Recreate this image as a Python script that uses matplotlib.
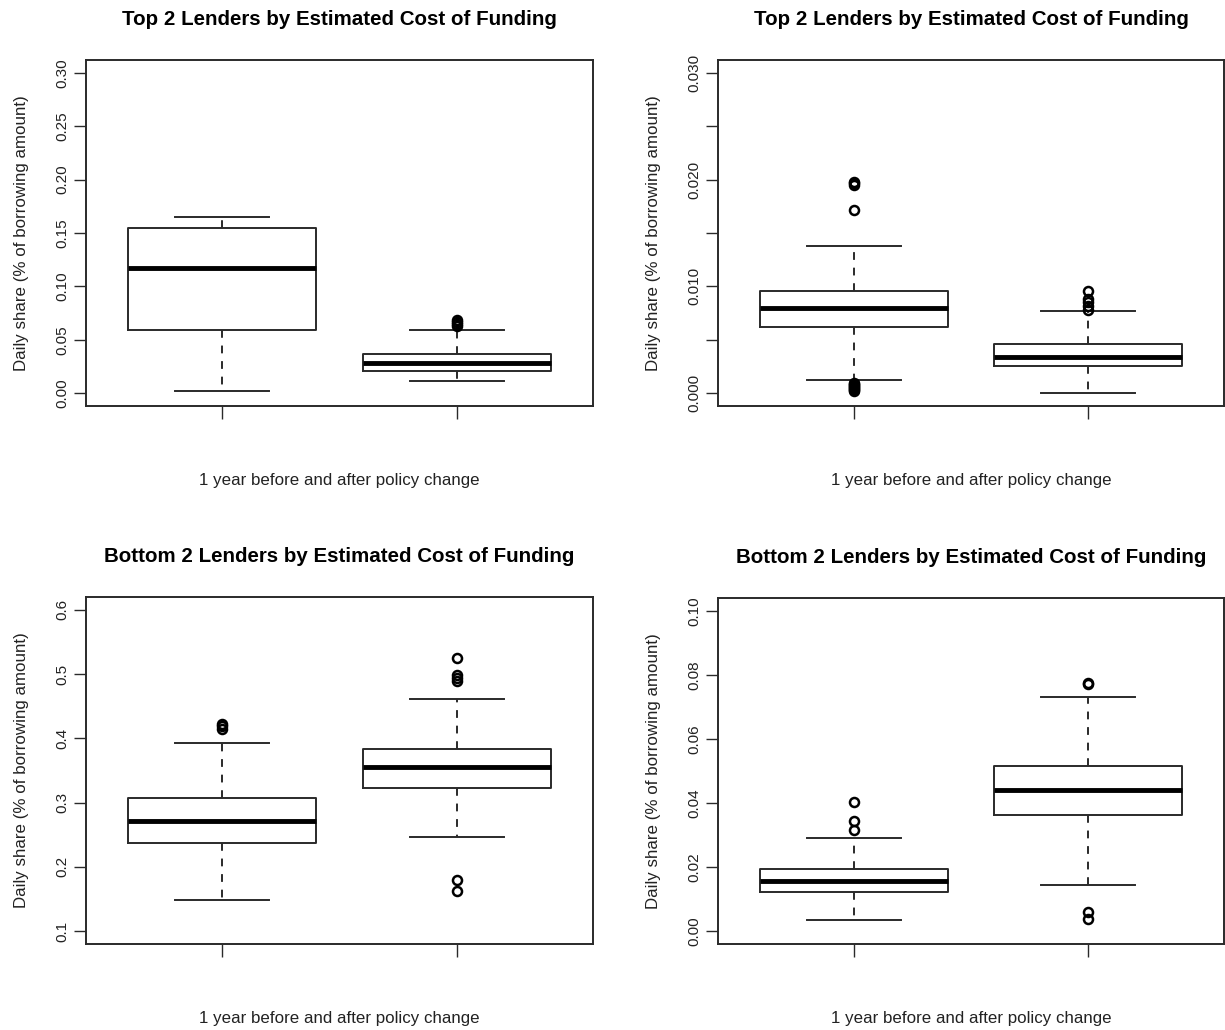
import numpy as np
import matplotlib
matplotlib.use("Agg")
import matplotlib.pyplot as plt

plt.rcParams['font.family'] = ['Liberation Sans', 'DejaVu Sans']

# box stats: [before, after] per panel
titles = ["Top 2 Lenders by Estimated Cost of Funding",
          "Top 2 Lenders by Estimated Cost of Funding",
          "Bottom 2 Lenders by Estimated Cost of Funding",
          "Bottom 2 Lenders by Estimated Cost of Funding"]

medians = [[0.117, 0.028], [0.0080, 0.0034], [0.272, 0.355], [0.0156, 0.0440]]
q1s = [[0.059, 0.021], [0.0062, 0.0025], [0.237, 0.323], [0.0123, 0.0364]]
q3s = [[0.155, 0.037], [0.0096, 0.0046], [0.307, 0.384], [0.0193, 0.0515]]
whislo = [[0.002, 0.011], [0.0012, 0.0000], [0.148, 0.246], [0.0034, 0.0143]]
whishi = [[0.165, 0.059], [0.0138, 0.0077], [0.393, 0.462], [0.0290, 0.0730]]
fliers = [
    [[], [0.063, 0.065, 0.067, 0.069]],
    [[0.0172, 0.0195, 0.0197, 0.0198, 0.0002, 0.0003, 0.0004, 0.0005,
      0.0006, 0.0007, 0.0008, 0.0009, 0.0010],
     [0.0078, 0.0082, 0.0085, 0.0088, 0.0096]],
    [[0.415, 0.419, 0.423], [0.490, 0.494, 0.498, 0.525, 0.162, 0.180]],
    [[0.0315, 0.0345, 0.0403], [0.0772, 0.0775, 0.0038, 0.0060]],
]

ylims = [(0, 0.30), (0, 0.030), (0.1, 0.6), (0, 0.10)]
yticks = [np.arange(0, 0.301, 0.05), np.arange(0, 0.0301, 0.005),
          np.arange(0.1, 0.601, 0.1), np.arange(0, 0.101, 0.02)]
ytick_fmt = ["{:.2f}", "{:.3f}", "{:.1f}", "{:.2f}"]
ylabel = "Daily share (% of borrowing amount)"
xlabel = "1 year before and after policy change"

W, H = 1225, 1030
# axes boxes in pixels (left, top, right, bottom)
boxes = [(86, 60, 593, 406), (718, 60, 1224, 406),
         (86, 597, 593, 944), (718, 598, 1224, 944)]

fig = plt.figure(figsize=(W / 100, H / 100), dpi=100)
col = '#2a2a2a'

for i in range(4):
    l, t, r, b = boxes[i]
    ax = fig.add_axes([l / W, 1 - b / H, (r - l) / W, (b - t) / H])
    stats = []
    for j in range(2):
        stats.append(dict(med=medians[i][j], q1=q1s[i][j], q3=q3s[i][j],
                          whislo=whislo[i][j], whishi=whishi[i][j],
                          fliers=fliers[i][j]))
    ax.bxp(stats, positions=[1, 2], widths=0.8, capwidths=0.4,
           boxprops=dict(color=col, lw=1.4),
           medianprops=dict(color='black', lw=3.5, solid_capstyle='butt'),
           whiskerprops=dict(color=col, lw=1.4, linestyle=(0, (4, 4))),
           capprops=dict(color=col, lw=1.4),
           flierprops=dict(marker='o', markerfacecolor='none', markeredgecolor='black',
                           markeredgewidth=1.8, markersize=6.5))
    lo, hi = ylims[i]
    pad = (hi - lo) * 0.04
    ax.set_ylim(lo - pad, hi + pad)
    ax.set_xlim(0.42, 2.58)
    ax.set_xticks([1, 2])
    ax.set_xticklabels(["", ""])
    ax.set_yticks(yticks[i])
    labs = [ytick_fmt[i].format(v) for v in yticks[i]]
    if i == 1:
        labs = [s if k % 2 == 0 else "" for k, s in enumerate(labs)]
    ax.set_yticklabels(labs)
    ax.tick_params(axis='both', length=9, width=1.0, color=col, labelsize=11,
                   labelcolor='#222222', pad=3)
    for lab in ax.get_yticklabels():
        lab.set_rotation(90)
        lab.set_va('center')
        lab.set_ha('right')
    for s in ax.spines.values():
        s.set_color(col)
        s.set_linewidth(1.4)
    ax.set_title(titles[i], fontsize=14.8, fontweight='bold', pad=25)
    ax.set_xlabel(xlabel, fontsize=12.2, labelpad=36, color='#222222')
    ax.set_ylabel(ylabel, fontsize=12.2, labelpad=19, color='#222222')

fig.savefig("out.png", dpi=100, facecolor='white')
